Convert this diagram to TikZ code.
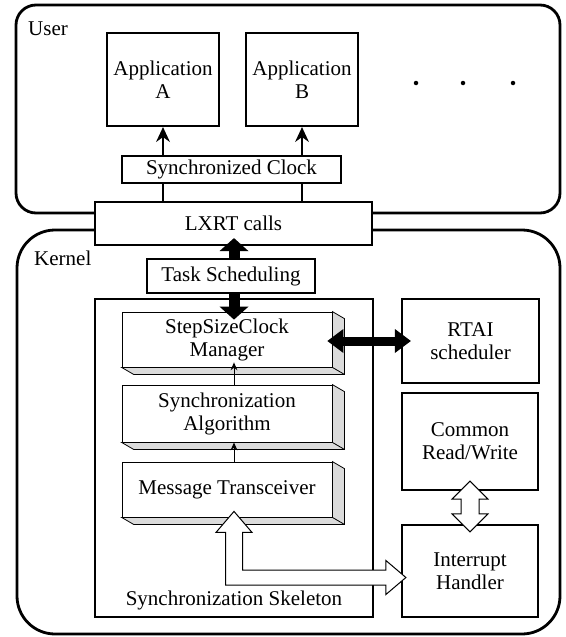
\documentclass[tikz,border=0pt]{standalone}
\usepackage{fontspec}
\setmainfont{Liberation Serif}
\usetikzlibrary{arrows.meta}
\tikzstyle{layer} = [draw=black, line width=2.8, rectangle, inner sep=0]
\tikzstyle{block} = [draw=black, line width=2.2, rectangle, fill=white, inner sep=0, align=center, font=\fontsize{21}{23}\selectfont]
\tikzstyle{thinblock} = [block, line width=1.2]
\tikzstyle{slab} = [block, line width=0.8]
\tikzstyle{face} = [draw=black, line width=0.8, fill=black!14, line join=miter]
\tikzstyle{tag} = [inner sep=0, anchor=base west, font=\fontsize{21}{23}\selectfont]
\tikzstyle{dot} = [circle, fill=black, inner sep=0, minimum size=4.5]
\tikzstyle{uparrow} = [line width=1.7, -{Stealth[width=14pt,length=15pt,inset=5pt,line width=0pt]}]
\tikzstyle{smallarrow} = [line width=1, -{Stealth[width=7pt,length=8pt,line width=0pt]}]
\tikzstyle{bigarrow} = [line width=11, -{Triangle[width=29pt,length=13pt,line width=0pt]}]
\tikzstyle{hollow} = [draw=black, line width=1, fill=white, line join=miter]

\begin{document}
\begin{tikzpicture}[x=1pt, y=-1pt]
        % Bounding box
        \useasboundingbox (0,0) rectangle (565,637);

        % Layers
        \node[layer, rounded corners=20, minimum width=544, minimum height=208] (user) at (288,109) {};
        \node[layer, rounded corners=38, minimum width=543, minimum height=404] (kernel) at (288.5,432) {};
        \node[tag] (userlbl) at (28,35) {User};
        \node[tag] (kernellbl) at (34,265) {Kernel};

        % User space
        \node[block, minimum width=277, minimum height=43] (lxrt) at (233.5,223.5) {LXRT calls};
        \node[block, minimum width=112, minimum height=93] (appA) at (163,79.5) {Application\\A};
        \node[block, minimum width=112, minimum height=93] (appB) at (302,79.5) {Application\\B};
        \node[thinblock, minimum width=219, minimum height=27] (sclk) at (231.5,169.5) {Synchronized Clock};
        \foreach \x [count=\i] in {416,463,513}
            \node[dot] (dot\i) at (\x,83) {};

        % Kernel space
        \coordinate (spine) at (234,0);
        \node[thinblock, minimum width=168, minimum height=34] (task) at (231,276) {Task Scheduling};
        \node[block, minimum width=278, minimum height=318] (skel) at (234,458) {};
        \node[inner sep=0, font=\fontsize{21}{23}\selectfont] (skellbl) at (234,600) {Synchronization Skeleton};
        \node[slab, minimum width=210, minimum height=55] (ssc)  at (227,339.5) {StepSizeClock\\Manager};
        \node[slab, minimum width=210, minimum height=57] (salg) at (227,413.5) {Synchronization\\Algorithm};
        \node[slab, minimum width=210, minimum height=55] (mtr)  at (227,489.5) {Message Transceiver};
        \foreach \n in {ssc,salg,mtr} {
            \filldraw[face] (\n.north east) -- ([shift={(12,7)}]\n.north east) -- ([shift={(12,7)}]\n.south east)
                -- ([shift={(12,7)}]\n.south west) -- (\n.south west) -- (\n.south east) -- cycle;
            \draw[line width=0.8] (\n.south east) -- ([shift={(12,7)}]\n.south east);
        }
        \node[block, minimum width=137, minimum height=84] (rtai) at (470.5,341) {RTAI\\scheduler};
        \node[block, minimum width=136, minimum height=97] (crw)  at (470,441.5) {Common\\Read/Write};
        \node[block, minimum width=136, minimum height=92] (ih)   at (470,571) {Interrupt\\Handler};

        % Edges
        % clock to applications
        \draw[uparrow] (sclk.north -| appA.south) -- (appA.south);
        \draw[uparrow] (sclk.north -| appB.south) -- (appB.south);
        \draw[line width=1.7] (lxrt.north -| appA.south) -- (sclk.south -| appA.south);
        \draw[line width=1.7] (lxrt.north -| appB.south) -- (sclk.south -| appB.south);

        % scheduling path
        \draw[bigarrow, shorten >=-8pt] (task.north -| spine) -- (lxrt.south -| spine);
        \draw[bigarrow, shorten >=-8pt] (task.south -| spine) -- (ssc.north -| spine);
        \draw[line width=9, {Triangle[width=24pt,length=16pt,line width=0pt]}-{Triangle[width=24pt,length=16pt,line width=0pt]},
              shorten <=-5pt, shorten >=-10pt] (ssc.east |- rtai.west) -- (rtai.west);

        % inside the skeleton
        \draw[smallarrow, shorten >=-5pt] (salg.north -| spine) -- (ssc.south -| spine);
        \draw[smallarrow, {Stealth[width=7pt,length=8pt,line width=0pt]}-] (salg.south -| spine) -- (mtr.north -| spine);

        % hollow arrows
        \draw[hollow] ([shift={(0,-10)}]crw.south) -- ([shift={(18,8)}]crw.south) -- ([shift={(9,8)}]crw.south)
            -- ([shift={(9,-10)}]ih.north) -- ([shift={(18,-10)}]ih.north) -- ([shift={(0,8)}]ih.north)
            -- ([shift={(-18,-10)}]ih.north) -- ([shift={(-9,-10)}]ih.north)
            -- ([shift={(-9,8)}]crw.south) -- ([shift={(-18,8)}]crw.south) -- cycle;
        \coordinate (mtrfoot) at (mtr.south -| spine);
        \coordinate (ihport) at ([yshift=-6.5pt]ih.west);
        \coordinate (bend) at (mtrfoot |- ihport);
        \draw[hollow] ([shift={(0,-6)}]mtrfoot) -- ([shift={(18,15)}]mtrfoot) -- ([shift={(8.5,15)}]mtrfoot)
            -- ([shift={(8.5,-7.5)}]bend) -- ([shift={(-15,-7.5)}]ihport) -- ([shift={(-15,-17)}]ihport)
            -- ([shift={(5,0)}]ihport) -- ([shift={(-15,17)}]ihport) -- ([shift={(-15,7.5)}]ihport)
            -- ([shift={(-8.5,7.5)}]bend) -- ([shift={(-8.5,15)}]mtrfoot) -- ([shift={(-18,15)}]mtrfoot) -- cycle;

    \end{tikzpicture}
\end{document}
